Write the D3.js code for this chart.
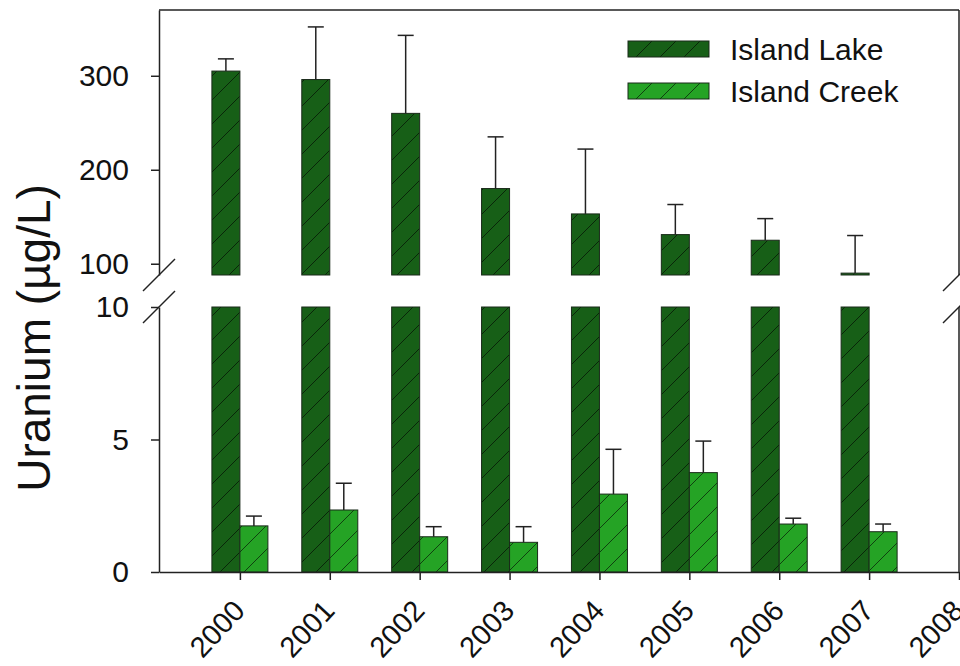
<!DOCTYPE html>
<html>
<head>
<meta charset="utf-8">
<script src="https://cdn.jsdelivr.net/npm/d3@7"></script>
<style>
  body { margin: 0; background: #fff; }
  svg { display: block; font-family: Arial, "Liberation Sans", sans-serif; }
</style>
</head>
<body>
<svg id="chart" width="960" height="666"></svg>
<script>
// data
const years = [2000, 2001, 2002, 2003, 2004, 2005, 2006, 2007]
const tickYears = [2000, 2001, 2002, 2003, 2004, 2005, 2006, 2007, 2008]
const lakeMean = [305, 296, 260, 180, 153, 131, 125, 90]
const lakeErr = [13, 56, 83, 55, 69, 32, 23, 40]
const creekMean = [1.74, 2.34, 1.33, 1.12, 2.94, 3.75, 1.81, 1.52]
const creekErr = [0.37, 1.01, 0.38, 0.59, 1.69, 1.19, 0.22, 0.29]
const seriesNames = ["Island Lake", "Island Creek"]
const topTicks = [100, 200, 300]
const bottomTicks = [0, 5, 10]

const darkGreen = "#175f17"
const lightGreen = "#25a325"
const axisColor = "#222"

const svg = d3.select("#chart")

const left = 159, right = 959
const x = d3.scaleLinear().domain([1999.1, 2008]).range([left, right])
const yTop = d3.scaleLinear().domain([88, 370]).range([275, 10])
const yBot = d3.scaleLinear().domain([0, 10]).range([572, 307])
const barW = 28

// hatch patterns
const defs = svg.append("defs")
function hatch(id, color) {
    const p = defs.append("pattern")
        .attr("id", id)
        .attr("patternUnits", "userSpaceOnUse")
        .attr("width", 24).attr("height", 24)
    p.append("rect").attr("width", 24).attr("height", 24).attr("fill", color)
    p.append("path")
        .attr("d", "M-6,6 L6,-6 M0,24 L24,0 M18,30 L30,18")
        .attr("stroke", "rgba(0,0,0,0.6)")
        .attr("stroke-width", 1)
}
hatch("hLake", darkGreen)
hatch("hCreek", lightGreen)

// bars, upper panel (lake only)
const upper = svg.append("g")
upper.selectAll("rect.lake")
    .data(years)
    .join("rect")
    .attr("x", (d) => x(d) - barW)
    .attr("y", (d, i) => yTop(lakeMean[i]))
    .attr("width", barW)
    .attr("height", (d, i) => yTop.range()[0] - yTop(lakeMean[i]))
    .attr("fill", "url(#hLake)")
    .attr("stroke", "#1a2a1a")
    .attr("stroke-width", 1)

// error bars upper
years.forEach((yr, i) => {
    const cx = x(yr) - barW / 2
    const y0 = yTop(lakeMean[i]), y1 = yTop(lakeMean[i] + lakeErr[i])
    upper.append("line").attr("x1", cx).attr("x2", cx).attr("y1", y0).attr("y2", y1)
        .attr("stroke", axisColor).attr("stroke-width", 1.5)
    upper.append("line").attr("x1", cx - 8).attr("x2", cx + 8).attr("y1", y1).attr("y2", y1)
        .attr("stroke", axisColor).attr("stroke-width", 1.5)
})

// bars, lower panel
const lower = svg.append("g")
lower.selectAll("rect.lake")
    .data(years)
    .join("rect")
    .attr("x", (d) => x(d) - barW)
    .attr("y", yBot(10))
    .attr("width", barW)
    .attr("height", yBot(0) - yBot(10))
    .attr("fill", "url(#hLake)")
    .attr("stroke", "#1a2a1a")
    .attr("stroke-width", 1)

lower.selectAll("rect.creek")
    .data(years)
    .join("rect")
    .attr("class", "creek")
    .attr("x", (d) => x(d))
    .attr("y", (d, i) => yBot(creekMean[i]))
    .attr("width", barW)
    .attr("height", (d, i) => yBot(0) - yBot(creekMean[i]))
    .attr("fill", "url(#hCreek)")
    .attr("stroke", "#1a2a1a")
    .attr("stroke-width", 1)

years.forEach((yr, i) => {
    const cx = x(yr) + barW / 2
    const y0 = yBot(creekMean[i]), y1 = yBot(creekMean[i] + creekErr[i])
    lower.append("line").attr("x1", cx).attr("x2", cx).attr("y1", y0).attr("y2", y1)
        .attr("stroke", axisColor).attr("stroke-width", 1.5)
    lower.append("line").attr("x1", cx - 8).attr("x2", cx + 8).attr("y1", y1).attr("y2", y1)
        .attr("stroke", axisColor).attr("stroke-width", 1.5)
})

// axes
function styleAxis(g) {
    g.selectAll("path, line").attr("stroke", axisColor).attr("stroke-width", 1.5)
    g.selectAll("text").attr("fill", "#111").attr("font-size", "30px")
        .attr("font-family", 'Arial, "Liberation Sans", sans-serif')
}

svg.append("g")
    .attr("transform", `translate(${left},0)`)
    .call(d3.axisLeft(yTop).tickValues(topTicks).tickSize(8).tickSizeOuter(0).tickPadding(22))
    .call(styleAxis)

svg.append("g")
    .attr("transform", `translate(${left},0)`)
    .call(d3.axisLeft(yBot).tickValues(bottomTicks).tickSize(8).tickSizeOuter(0).tickPadding(22))
    .call(styleAxis)

// right border (no ticks)
svg.append("line").attr("x1", right).attr("x2", right).attr("y1", 10).attr("y2", 275)
    .attr("stroke", axisColor).attr("stroke-width", 1.5)
svg.append("line").attr("x1", right).attr("x2", right).attr("y1", 307).attr("y2", 572)
    .attr("stroke", axisColor).attr("stroke-width", 1.5)
// top border
svg.append("line").attr("x1", left).attr("x2", right).attr("y1", 10).attr("y2", 10)
    .attr("stroke", axisColor).attr("stroke-width", 1.5)

const xAxis = svg.append("g")
    .attr("transform", `translate(0,${yBot(0)})`)
    .call(d3.axisBottom(x).tickValues(tickYears).tickFormat(d3.format("d"))
        .tickSize(8).tickSizeOuter(0))
    .call(styleAxis)
xAxis.selectAll("text")
    .attr("font-size", "29px")
    .attr("text-anchor", "end")
    .attr("dy", null)
    .attr("y", null)
    .attr("transform", "translate(6,40) rotate(-47)")

// axis break marks
const breaks = [275, 307]
;[left, right].forEach(bx => {
    breaks.forEach(by => {
        svg.append("line")
            .attr("x1", bx - 16).attr("y1", by + 16)
            .attr("x2", bx + 16).attr("y2", by - 16)
            .attr("stroke", axisColor).attr("stroke-width", 1.5)
    })
})

// y title
svg.append("text")
    .attr("transform", "translate(50,338) rotate(-90)")
    .attr("text-anchor", "middle")
    .attr("font-size", "46px")
    .attr("fill", "#111")
    .text("Uranium (\u00b5g/L)")

// legend
const legend = svg.append("g").attr("transform", "translate(628,41)")
seriesNames.forEach((name, i) => {
    const g = legend.append("g").attr("transform", `translate(0,${i * 42})`)
    g.append("rect").attr("width", 81).attr("height", 16)
        .attr("fill", i === 0 ? "url(#hLake)" : "url(#hCreek)")
        .attr("stroke", "#1a2a1a").attr("stroke-width", 1)
    g.append("text").attr("x", 102).attr("y", 8).attr("dy", "0.36em")
        .attr("font-size", "30px").attr("fill", "#111")
        .text(name)
})
</script>
</body>
</html>
